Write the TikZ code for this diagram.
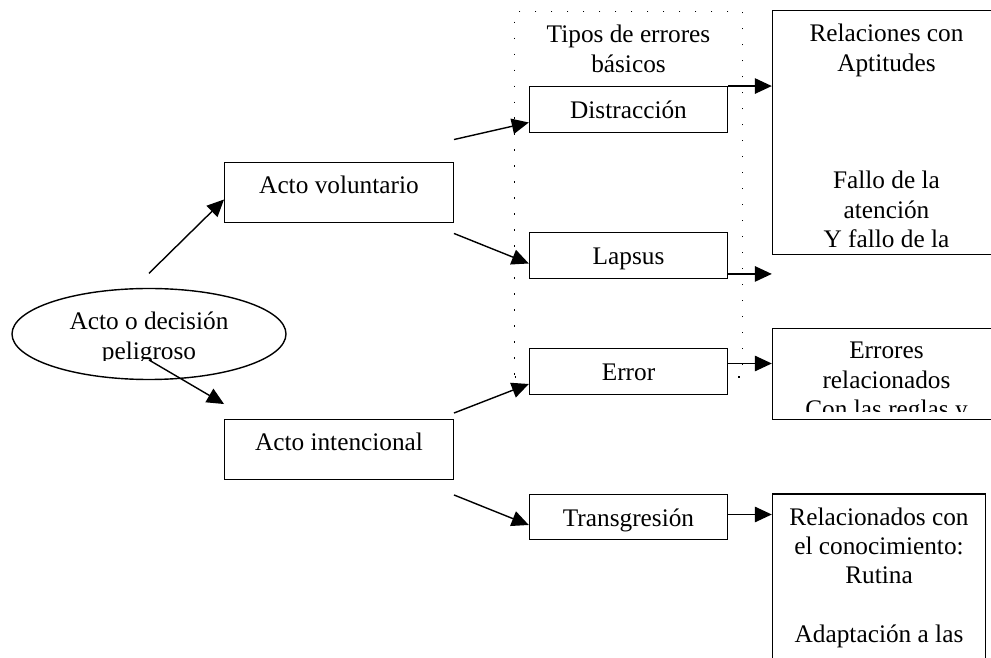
\documentclass[tikz,border=0pt]{standalone}
\usepackage{fontspec}
\setmainfont{Liberation Serif}
\usetikzlibrary{arrows.meta,shapes.geometric}

\begin{document}
\begin{tikzpicture}[
    caja/.style={draw, line width=0.8pt, fill=white, inner sep=0pt},
    acto/.style={caja, minimum width=4.57cm, text height=0.63cm, text depth=0.58cm},
    tipo/.style={caja, minimum width=3.96cm, text height=0.64cm, text depth=0.27cm},
    grande/.style={caja, minimum width=4.56cm},
    texto/.style={align=center, inner sep=0pt},
    flecha/.style={line width=0.8pt, -{Triangle[length=0.34cm,width=0.31cm]}},
    punteado/.style={draw, line width=0.8pt, dash pattern=on 0.7pt off 8.4pt, inner sep=0pt},
    every node/.style={font=\fontsize{14.4}{16.7}\selectfont}
  ]
  \useasboundingbox (0,0) rectangle (19.82,13.16);
  \clip (0,0) rectangle (19.82,13.16);

  % Marco tipos de errores
  \node[punteado, minimum width=4.56cm, minimum height=7.31cm] (marco) at (12.57,9.275) {};
  \node[texto, anchor=north] (tipos) at ([yshift=-0.28cm]marco.north) {Tipos de errores\\básicos};

  % Elipse acto peligroso
  \node[draw, ellipse, line width=0.8pt, minimum width=5.48cm, minimum height=1.82cm, inner sep=0pt] (elipse) at (2.98,6.48) {};
  \begin{scope}
    \clip (0.2,5.95) rectangle (5.8,7.3);
    \node[texto, anchor=north] (peligro) at ([yshift=-0.48cm]elipse.north) {Acto o decisión\\peligroso};
  \end{scope}

  % Actos
  \node[acto] (volun) at (6.78,9.31) {Acto voluntario};
  \node[acto] (inten) at (6.78,4.17) {Acto intencional};

  % Tipos de error
  \node[tipo] (distr) at (12.57,10.97) {Distracción};
  \node[tipo] (lapsus) at (12.57,8.05) {Lapsus};
  \node[tipo] (error) at (12.57,5.73) {Error};
  \node[tipo] (transg) at (12.57,2.82) {Transgresión};

  % Cuadros de la derecha
  \node[grande, minimum height=4.87cm] (rel1) at (17.73,10.51) {};
  \node[texto, anchor=north] (t1) at ([yshift=-0.28cm]rel1.north) {Relaciones con\\Aptitudes\\~\\~\\~\\Fallo de la\\atención\\Y fallo de la};

  \node[grande, minimum height=1.82cm] (rel3) at (17.73,5.68) {};
  \begin{scope}
    \clip (rel3.north west) rectangle ([yshift=0.18cm]rel3.south east);
    \node[texto, anchor=north] (t3) at ([yshift=-0.28cm]rel3.north) {Errores\\relacionados\\Con las reglas y};
  \end{scope}

  \node[caja, minimum width=4.26cm, minimum height=4.8cm] (rel4) at (17.58,0.88) {};
  \node[texto, anchor=north] (t4) at ([yshift=-0.28cm]rel4.north) {Relacionados con\\el conocimiento:\\Rutina\\~\\Adaptación a las};

  % Flechas desde la elipse
  \coordinate (e1) at ([yshift=0.29cm]elipse.north);
  \coordinate (e2) at ([yshift=-0.52cm]elipse.center);
  \draw[flecha] (e1) -- ([yshift=-0.14cm]volun.west);
  \draw[flecha] (e2) -- ([yshift=0.29cm]inten.north west);

  % Flechas desde los actos
  \coordinate (v1) at ([yshift=0.44cm]volun.north east);
  \coordinate (v2) at ([yshift=-0.20cm]volun.south east);
  \coordinate (i1) at ([yshift=0.11cm]inten.north east);
  \coordinate (i2) at ([yshift=-0.29cm]inten.south east);
  \draw[flecha] (v1) -- ([yshift=-0.26cm]distr.west);
  \draw[flecha] (v2) -- ([yshift=-0.16cm]lapsus.west);
  \draw[flecha] (i1) -- ([yshift=-0.25cm]error.west);
  \draw[flecha] (i2) -- ([yshift=-0.16cm]transg.west);

  % Flechas hacia la derecha
  \draw[flecha] (distr.north east) -- (distr.north east -| rel1.west);
  \coordinate (l1) at ([yshift=0.10cm]lapsus.south east);
  \draw[flecha] (l1) -- (l1 -| rel1.west);
  \coordinate (r1) at ([yshift=0.16cm]error.east);
  \draw[flecha] (r1) -- (r1 -| rel3.west);
  \coordinate (g1) at ([yshift=0.05cm]transg.east);
  \draw[flecha] (g1) -- (g1 -| rel4.west);
\end{tikzpicture}
\end{document}
